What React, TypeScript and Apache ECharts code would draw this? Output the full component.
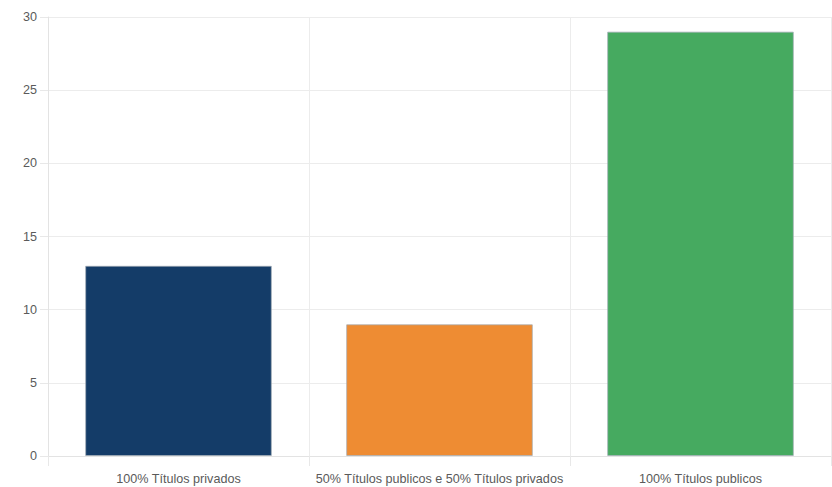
import React, { useEffect, useRef } from "react";
import * as echarts from "echarts";

const categories = [
  "100% Títulos privados",
  "50% Títulos publicos e 50% Títulos privados",
  "100% Títulos publicos",
];
const values = [13, 9, 29];
const colors = ["#143C68", "#EE8C33", "#46AA60"];
const yTicks = { min: 0, max: 30, interval: 5 };

export default function App() {
  const ref = useRef<HTMLDivElement>(null);
  useEffect(() => {
    const chart = echarts.init(ref.current!, null, { renderer: "svg" });
    chart.setOption({
      animation: false,
      backgroundColor: "#ffffff",
      grid: { left: 48, right: 1, top: 17, bottom: 31, containLabel: false },
      xAxis: {
        type: "category",
        data: categories,
        boundaryGap: true,
        axisLine: { show: true, lineStyle: { color: "#e3e3e3", width: 1 } },
        axisTick: { show: true, length: 10, lineStyle: { color: "#e8e8e8" } },
        splitLine: { show: true, lineStyle: { color: "#ececec", width: 1 } },
        axisLabel: {
          color: "#5a5a5a",
          fontSize: 12.6,
          fontFamily: "Liberation Sans, Arial, sans-serif",
          margin: 16,
          interval: 0,
        },
      },
      yAxis: {
        type: "value",
        min: yTicks.min,
        max: yTicks.max,
        interval: yTicks.interval,
        axisLine: { show: true, lineStyle: { color: "#e3e3e3", width: 1 } },
        axisTick: { show: true, length: 8, lineStyle: { color: "#e8e8e8" } },
        splitLine: { show: true, lineStyle: { color: "#ececec", width: 1 } },
        axisLabel: {
          color: "#5a5a5a",
          fontSize: 12.6,
          fontFamily: "Liberation Sans, Arial, sans-serif",
          margin: 11,
        },
      },
      series: [
        {
          type: "bar",
          data: values.map((v, i) => ({
            value: v,
            itemStyle: { color: colors[i] },
          })),
          barWidth: "71.5%",
          itemStyle: { borderColor: "rgba(160,170,180,0.7)", borderWidth: 1 },
        },
      ],
    });
    return () => chart.dispose();
  }, []);
  return (
    <div
      ref={ref}
      style={{ position: "fixed", left: 0, top: 0, width: 832, height: 487, background: "#fff" }}
    />
  );
}
